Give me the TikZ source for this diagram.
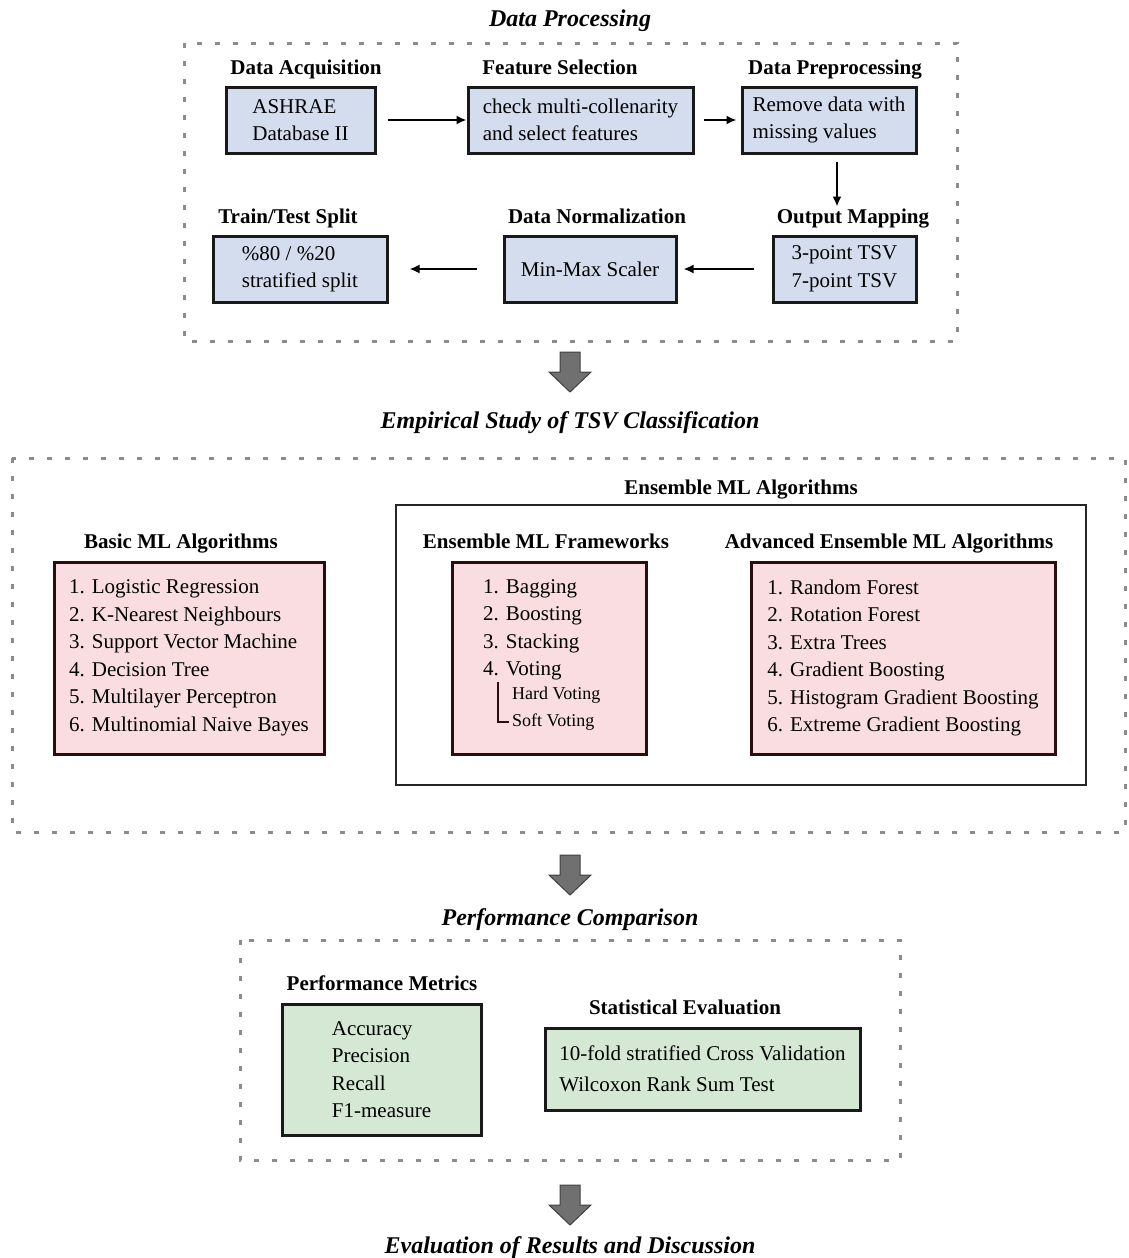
\documentclass[tikz,border=0pt]{standalone}
\usepackage{fontspec}
\setmainfont{Liberation Serif}
\usetikzlibrary{arrows.meta}

\definecolor{boxblue}{RGB}{212,221,238}
\definecolor{boxpink}{RGB}{249,221,224}
\definecolor{boxgreen}{RGB}{213,232,212}
\definecolor{pinkline}{RGB}{45,12,14}
\definecolor{framegray}{RGB}{140,140,140}
\definecolor{arrowgray}{RGB}{112,112,112}

\tikzset{
  stepbox/.style={draw=black!90, line width=3, align=left, inner sep=0,
    font=\fontsize{21}{27.5}\selectfont},
  bluebox/.style={stepbox, fill=boxblue},
  pinkbox/.style={stepbox, fill=boxpink, draw=pinkline},
  greenbox/.style={stepbox, fill=boxgreen},
  listtext/.style={align=left, inner sep=0, font=\fontsize{21}{27.5}\selectfont},
  subtext/.style={inner sep=0, font=\fontsize{18}{22}\selectfont},
  head/.style={inner sep=0, anchor=base, font=\fontsize{21}{25}\selectfont\bfseries},
  title/.style={inner sep=0, anchor=base, font=\fontsize{24}{28}\selectfont\bfseries\itshape},
  conn/.style={-{Latex[length=10,width=9]}, line width=1.8},
  dashframe/.style={draw=framegray, line width=3, dash pattern=on 5pt off 13pt},
  bigarrow/.style={fill=arrowgray, draw=black!75, line width=1},
}

\begin{document}
\begin{tikzpicture}[x=1pt,y=-1pt]
\useasboundingbox (0,0) rectangle (1128,1258);

% data processing
\node[title] (t1) at (570,26) {Data Processing};
\draw[dashframe] (184,43) rectangle (957,341);

\node[head] (acqh) at (306,74) {Data Acquisition};
\node[bluebox, minimum width=149, minimum height=66] (acq) at (300.5,120) {ASHRAE\\Database II};
\node[head] (feath) at (560,74) {Feature Selection};
\node[bluebox, minimum width=225, minimum height=66] (feat) at (580.5,120) {check multi-collenarity\\and select features};
\node[head] (preph) at (835,74) {Data Preprocessing};
\node[bluebox, minimum width=174, minimum height=66] (prep) at (829,120) {Remove data with\\missing values};

\node[head] (outh) at (853,223) {Output Mapping};
\node[bluebox, minimum width=143, minimum height=66] (outm) at (844.5,269) {3-point TSV\\7-point TSV};
\node[head] (normh) at (597,223) {Data Normalization};
\node[bluebox, minimum width=172, minimum height=66] (norm) at (590,269) {Min-Max Scaler};
\node[head] (splith) at (288,223) {Train/Test Split};
\node[bluebox, minimum width=174, minimum height=66] (split) at (300,269) {\%80 / \%20\\stratified split};

\draw[conn] ([xshift=11]acq.east) -- (feat.west);
\draw[conn] ([xshift=9]feat.east) -- ([xshift=-4]prep.west);
\draw[conn] ([xshift=8,yshift=-7]prep.south) -- ([xshift=8,yshift=-52]prep.south);
\draw[conn] ([xshift=-18]outm.west) -- ([xshift=6]norm.east);
\draw[conn] ([xshift=-26]norm.west) -- ([xshift=21]split.east);

\filldraw[bigarrow] (570,352) ++(-10,0) -- ++(20,0) -- ++(0,20) -- ++(11,0) -- ++(-21,20) -- ++(-21,-20) -- ++(11,0) -- cycle;

% classification study
\node[title] (t2) at (570,428) {Empirical Study of TSV Classification};
\draw[dashframe] (12,458) rectangle (1125,832);

\node[head] (basich) at (181,548) {Basic ML Algorithms};
\node[pinkbox, minimum width=270, minimum height=192] (basic) at (189,658)
  {1. Logistic Regression\\2. K-Nearest Neighbours\\3. Support Vector Machine\\4. Decision Tree\\5. Multilayer Perceptron\\6. Multinomial Naive Bayes};

\draw[line width=1.5, draw=black!85] (396,505) rectangle (1086,785);
\node[head] (ensh) at (741,494) {Ensemble ML Algorithms};

\node[head] (fwh) at (546,548) {Ensemble ML Frameworks};
\node[pinkbox, minimum width=194, minimum height=192] (fw) at (549,658) {};
\node[listtext, anchor=north west] (fwlist) at (483,579) {1. Bagging\\2. Boosting\\3. Stacking\\4. Voting};
\node[subtext, anchor=west] (hard) at (512,695) {Hard Voting};
\node[subtext, anchor=west] (soft) at (512,722) {Soft Voting};
\draw[line width=1.6, draw=pinkline] ([xshift=-14,yshift=13]hard.west) |- ([xshift=-3]soft.west);

\node[head] (advh) at (889,548) {Advanced Ensemble ML Algorithms};
\node[pinkbox, minimum width=304, minimum height=192] (adv) at (903,658)
  {1. Random Forest\\2. Rotation Forest\\3. Extra Trees\\4. Gradient Boosting\\5. Histogram Gradient Boosting\\6. Extreme Gradient Boosting};

\filldraw[bigarrow] (570,855) ++(-10,0) -- ++(20,0) -- ++(0,20) -- ++(11,0) -- ++(-21,20) -- ++(-21,-20) -- ++(11,0) -- cycle;

% comparison
\node[title] (t3) at (570,925) {Performance Comparison};
\draw[dashframe] (240,940) rectangle (900,1160);

\node[head] (metrh) at (382,990) {Performance Metrics};
\node[greenbox, minimum width=199, minimum height=131] (metr) at (381.5,1069.5)
  {Accuracy\\Precision\\Recall\\F1-measure};
\node[head] (stath) at (685,1014) {Statistical Evaluation};
\node[greenbox, minimum width=315, minimum height=82] (stat) at (702.5,1069)
  {10-fold stratified Cross Validation\\[4pt]Wilcoxon Rank Sum Test};

\filldraw[bigarrow] (570,1185) ++(-10,0) -- ++(20,0) -- ++(0,20) -- ++(11,0) -- ++(-21,20) -- ++(-21,-20) -- ++(11,0) -- cycle;

\node[title] (t4) at (570,1253) {Evaluation of Results and Discussion};
\end{tikzpicture}
\end{document}
